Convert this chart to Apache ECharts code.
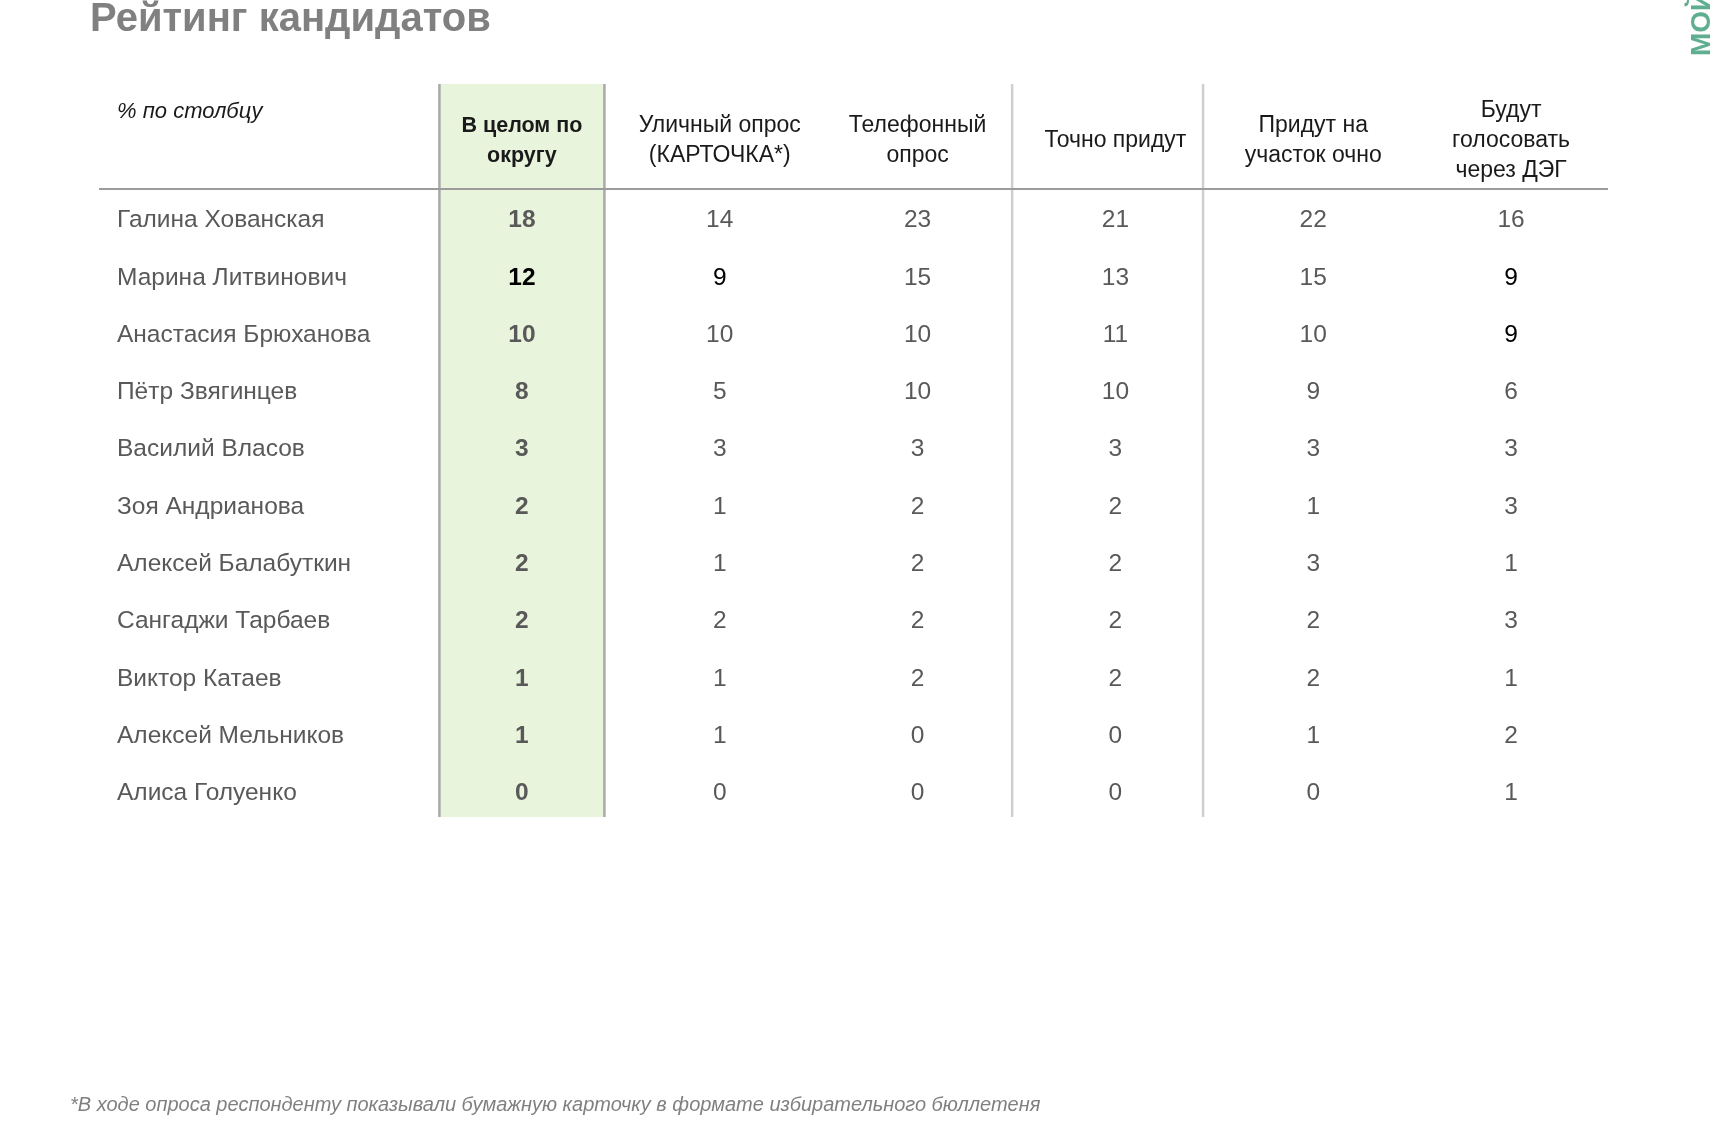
<!DOCTYPE html>
<html><head><meta charset="utf-8">
<script src="https://cdn.jsdelivr.net/npm/echarts@6/dist/echarts.min.js"></script>
<style>html,body{margin:0;padding:0;background:#fff}#c{width:1732px;height:1124px}</style>
</head><body><div id="c"></div>
<script>
// ---- data ----
const columns = ['В целом по\nокругу', 'Уличный опрос\n(КАРТОЧКА*)', 'Телефонный\nопрос', 'Точно придут', 'Придут на\nучасток очно', 'Будут\nголосовать\nчерез ДЭГ'];
const candidates = ['Галина Хованская', 'Марина Литвинович', 'Анастасия Брюханова', 'Пётр Звягинцев', 'Василий Власов', 'Зоя Андрианова', 'Алексей Балабуткин', 'Сангаджи Тарбаев', 'Виктор Катаев', 'Алексей Мельников', 'Алиса Голуенко'];
const overall  = [18, 12, 10, 8, 3, 2, 2, 2, 1, 1, 0];
const street   = [14, 9, 10, 5, 3, 1, 1, 2, 1, 1, 0];
const phone    = [23, 15, 10, 10, 3, 2, 2, 2, 2, 0, 0];
const sure     = [21, 13, 11, 10, 3, 2, 2, 2, 2, 0, 0];
const inPerson = [22, 15, 10, 9, 3, 1, 3, 2, 2, 1, 0];
const viaDEG   = [16, 9, 9, 6, 3, 3, 1, 3, 1, 2, 1];
const highlighted = [[0, 1], [1, 1], [5, 1], [5, 2]]; // [column, row] shown in black
const titleText = 'Рейтинг кандидатов';
const unitText = '% по столбцу';
const footnoteText = '*В ходе опроса респонденту показывали бумажную карточку в формате избирательного бюллетеня';
const logoText = 'МОЙ РАЙОН';

// ---- build ----
const FONT = '"Liberation Sans", Arial, sans-serif';
const seriesCols = [overall, street, phone, sure, inPerson, viaDEG];
const cells = [];
seriesCols.forEach((col, c) => col.forEach((v, r) => {
  const hl = highlighted.some(h => h[0] === c && h[1] === r) ? 1 : 0;
  cells.push([c, r, v, hl]);
}));

const chart = echarts.init(document.getElementById('c'), null, {renderer: 'canvas'});
chart.setOption({
  animation: false,
  backgroundColor: '#ffffff',
  title: [
    {text: titleText, left: 90, top: 0, padding: 0,
     textStyle: {fontFamily: FONT, fontSize: 40, fontWeight: 'bold', color: '#808080', lineHeight: 40}},
    {text: unitText, left: 117, top: 97, padding: 0,
     textStyle: {fontFamily: FONT, fontSize: 22, fontStyle: 'italic', fontWeight: 'normal', color: '#1a1a1a', lineHeight: 30}},
    {text: footnoteText, left: 70, top: 1093, padding: 0,
     textStyle: {fontFamily: FONT, fontSize: 20, fontStyle: 'italic', fontWeight: 'normal', color: '#808080', lineHeight: 24}}
  ],
  graphic: [{
    type: 'text', x: 1716, y: 56, rotation: Math.PI / 2, silent: true,
    style: {text: logoText, font: 'bold 28px ' + FONT, fill: '#5fae8f', textAlign: 'left', textVerticalAlign: 'bottom'}
  }],
  grid: {left: 423, right: 122, top: 192, bottom: 302, containLabel: false},
  xAxis: {
    type: 'category', position: 'top', data: columns, z: 10,
    axisLine: {show: false}, axisTick: {show: false}, splitLine: {show: false},
    axisLabel: {
      interval: 0, showMinLabel: true, showMaxLabel: true, hideOverlap: false,
      margin: 51, verticalAlign: 'middle', fontFamily: FONT, fontSize: 23, lineHeight: 30, color: '#1a1a1a',
      formatter: (v, i) => i === 0 ? '{b|' + v + '}' : v,
      rich: {b: {fontFamily: FONT, fontSize: 21.5, lineHeight: 30, fontWeight: 'bold', color: '#1a1a1a'}}
    }
  },
  yAxis: {
    type: 'category', inverse: true, data: candidates, z: 10,
    axisLine: {show: false}, axisTick: {show: false}, splitLine: {show: false},
    axisLabel: {interval: 0, showMinLabel: true, showMaxLabel: true, hideOverlap: false,
      align: 'left', margin: 306, fontFamily: FONT, fontSize: 24.5, color: '#595959'}
  },
  series: [
    {
      type: 'custom', coordinateSystem: 'cartesian2d', clip: false, silent: true, z: 1,
      data: [[0, 0]],
      renderItem(params, api) {
        const cs = params.coordSys;
        const bw = api.size([1, 0])[0];
        const cx = i => api.coord([i, 0])[0];
        const top = cs.y - 108, bot = cs.y + cs.height - 5;
        const gl = cx(0) - 0.417 * bw, gr = cx(0) + 0.417 * bw;
        const vline = (x, color) => ({type: 'line', shape: {x1: x, y1: top, x2: x, y2: bot}, style: {stroke: color, lineWidth: 2.5}});
        return {type: 'group', children: [
          {type: 'rect', shape: {x: gl, y: top, width: gr - gl, height: bot - top}, style: {fill: '#e9f4dc'}},
          vline(gl, '#a9a9a9'), vline(gr, '#a9a9a9'),
          vline(cx(2) + 0.478 * bw, '#cfcfcf'),
          vline(cx(3) + 0.443 * bw, '#cfcfcf'),
          {type: 'line', shape: {x1: cs.x - 324, y1: cs.y - 3, x2: cs.x + cs.width - 2, y2: cs.y - 3}, style: {stroke: '#9c9c9c', lineWidth: 2}}
        ]};
      }
    },
    {
      type: 'custom', coordinateSystem: 'cartesian2d', clip: false, silent: true, z: 3,
      encode: {x: 0, y: 1},
      data: cells,
      renderItem(params, api) {
        const p = api.coord([api.value(0), api.value(1)]);
        const c = api.value(0), hl = api.value(3);
        return {type: 'text', x: p[0], y: p[1], style: {
          text: String(api.value(2)), textAlign: 'center', textVerticalAlign: 'middle',
          font: (c === 0 ? 'bold ' : '') + '24.5px ' + FONT,
          fill: hl ? '#000000' : '#595959'
        }};
      }
    }
  ]
});
</script></body></html>
